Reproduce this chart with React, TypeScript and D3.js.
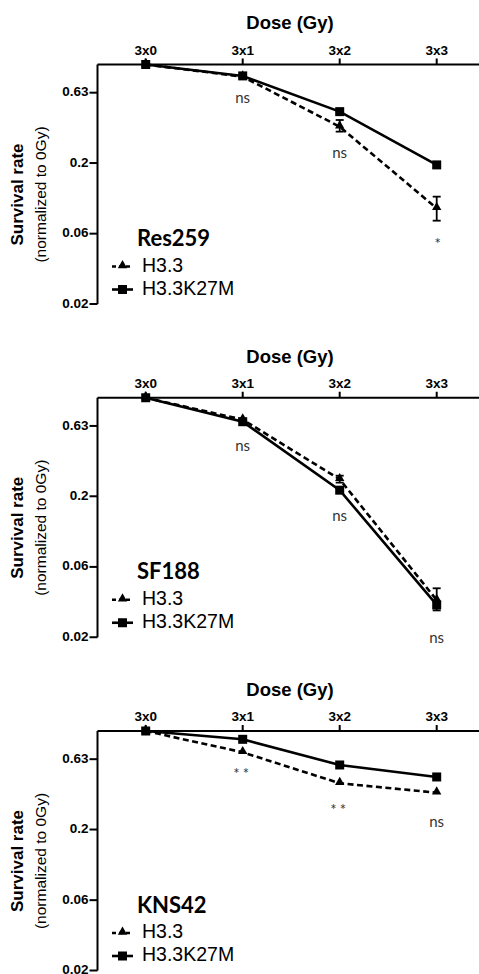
import * as d3 from "d3";

// x categories and y ticks (log axis, half-decade ticks)
const doses = ["3x0", "3x1", "3x2", "3x3"];
const yTickValues = [0.631, 0.2, 0.0631, 0.02];
const yTickLabels = ["0.63", "0.2", "0.06", "0.02"];
const seriesNames = ["H3.3", "H3.3K27M"];

// Res259
const res259H33 = [1, 0.82, 0.362, 0.0955];
const res259K27M = [1, 0.83, 0.463, 0.194];
const res259H33Err: ([number, number] | null)[] = [null, null, [0.334, 0.404], [0.078, 0.1155]];
const res259Sig = ["", "ns", "ns", "*"];
const res259SigAt = [0, 0.567, 0.232, 0.0525];

// SF188
const sf188H33 = [1, 0.7, 0.264, 0.0367];
const sf188K27M = [1, 0.676, 0.221, 0.0339];
const sf188H33Err: ([number, number] | null)[] = [null, null, [0.25, 0.28], [0.031, 0.0445]];
const sf188Sig = ["", "ns", "ns", "ns"];
const sf188SigAt = [0, 0.445, 0.141, 0.0194];

// KNS42
const kns42H33 = [1, 0.706, 0.426, 0.365];
const kns42K27M = [1, 0.873, 0.574, 0.472];
const kns42H33Err: ([number, number] | null)[] = [null, null, null, null];
const kns42Sig = ["", "**", "**", "ns"];
const kns42SigAt = [0, 0.488, 0.272, 0.221];

const W = 479;
const H = 974;
const panelH = 333.25;
const margin = { top: 64.5, left: 97.5 };
const plotH = 239.5;

const arial = "'Liberation Sans', Arial, sans-serif";
const calibri = "Lato, 'Open Sans', sans-serif";

interface PanelProps {
  name: string;
  h33: number[];
  k27m: number[];
  h33Err: ([number, number] | null)[];
  sig: string[];
  sigAt: number[];
  offset: number;
}

function Panel({ name, h33, k27m, h33Err, sig, sigAt, offset }: PanelProps) {
  const x = d3.scalePoint<string>().domain(doses).range([145.7 - margin.left, 436.7 - margin.left]);
  const y = d3.scaleLog().domain([0.02, 1]).range([plotH, 0]);

  const line = d3
    .line<number>()
    .x((_, i) => x(doses[i]) as number)
    .y((d) => y(d));

  const tri = d3.symbol().type(d3.symbolTriangle).size(38)() as string;
  const sq = 9;

  return (
    <g transform={`translate(${margin.left}, ${offset + margin.top})`}>
      {/* top axis */}
      <line x1={0} x2={W - margin.left} y1={0} y2={0} stroke="#000" strokeWidth={2} />
      {doses.map((d) => (
        <g key={d} transform={`translate(${x(d)}, 0)`}>
          <line y1={0} y2={-6} stroke="#000" strokeWidth={2} />
          <text y={-10} textAnchor="middle" fontFamily={arial} fontWeight="bold" fontSize={13.5}>
            {d}
          </text>
        </g>
      ))}
      <text
        x={290 - margin.left}
        y={-40}
        textAnchor="middle"
        dominantBaseline="middle"
        fontFamily={arial}
        fontWeight="bold"
        fontSize={18.5}
      >
        Dose (Gy)
      </text>

      {/* left axis */}
      <line x1={0} x2={0} y1={0} y2={plotH} stroke="#000" strokeWidth={2} />
      {yTickValues.map((v, i) => (
        <g key={v} transform={`translate(0, ${y(v)})`}>
          <line x1={-8} x2={0} stroke="#000" strokeWidth={2} />
          <text
            x={-9}
            textAnchor="end"
            dominantBaseline="middle"
            fontFamily={arial}
            fontWeight="bold"
            fontSize={13.5}
          >
            {yTickLabels[i]}
          </text>
        </g>
      ))}
      <text
        transform={`translate(${19 - margin.left}, 130) rotate(-90)`}
        textAnchor="middle"
        dominantBaseline="middle"
        fontFamily={arial}
        fontWeight="bold"
        fontSize={17}
      >
        Survival rate
      </text>
      <text
        transform={`translate(${42 - margin.left}, 130) rotate(-90)`}
        textAnchor="middle"
        dominantBaseline="middle"
        fontFamily={arial}
        fontSize={15.5}
      >
        (normalized to 0Gy)
      </text>

      {/* series lines */}
      <path d={line(h33) as string} fill="none" stroke="#000" strokeWidth={2.6} strokeDasharray="6,3.5" />
      <path d={line(k27m) as string} fill="none" stroke="#000" strokeWidth={2.6} />

      {/* error bars */}
      {h33Err.map((e, i) =>
        e ? (
          <g key={i} stroke="#000" strokeWidth={1.8}>
            <line x1={x(doses[i])} x2={x(doses[i])} y1={y(e[0])} y2={y(e[1])} />
            <line x1={(x(doses[i]) as number) - 4} x2={(x(doses[i]) as number) + 4} y1={y(e[0])} y2={y(e[0])} />
            <line x1={(x(doses[i]) as number) - 4} x2={(x(doses[i]) as number) + 4} y1={y(e[1])} y2={y(e[1])} />
          </g>
        ) : null
      )}

      {/* markers */}
      {h33.map((v, i) => (
        <path key={`t${i}`} d={tri} transform={`translate(${x(doses[i])}, ${y(v) - 1})`} fill="#000" />
      ))}
      {k27m.map((v, i) => (
        <rect key={`s${i}`} x={(x(doses[i]) as number) - sq / 2} y={y(v) - sq / 2} width={sq} height={sq} fill="#000" />
      ))}

      {/* significance */}
      {sig.map((s, i) =>
        s ? (
          <text
            key={`g${i}`}
            x={(x(doses[i]) as number) + (s === "*" ? 1 : 0)}
            y={y(sigAt[i])}
            textAnchor="middle"
            dominantBaseline="middle"
            fontFamily={calibri}
            fontSize={s === "ns" ? 15 : 15}
            letterSpacing={s === "**" ? 3 : 0}
            fill="#333"
          >
            {s}
          </text>
        ) : null
      )}

      {/* legend */}
      <text x={137 - margin.left} y={176} dominantBaseline="middle" fontFamily={calibri} fontWeight="bold" fontSize={22}>
        {name}
      </text>
      <g transform={`translate(0, 202)`}>
        <line x1={112 - margin.left} x2={133 - margin.left} stroke="#000" strokeWidth={2.6} strokeDasharray="4,3" />
        <path d={tri} transform={`translate(${122.5 - margin.left}, -1)`} fill="#000" />
        <text x={142 - margin.left} dominantBaseline="middle" fontFamily={arial} fontSize={19.5}>
          {seriesNames[0]}
        </text>
      </g>
      <g transform={`translate(0, 225)`}>
        <line x1={112 - margin.left} x2={133 - margin.left} stroke="#000" strokeWidth={2.6} />
        <rect x={122.5 - margin.left - sq / 2} y={-sq / 2} width={sq} height={sq} fill="#000" />
        <text x={142 - margin.left} dominantBaseline="middle" fontFamily={arial} fontSize={19.5}>
          {seriesNames[1]}
        </text>
      </g>
    </g>
  );
}

export default function App() {
  return (
    <svg
      width={W}
      height={H}
      viewBox={`0 0 ${W} ${H}`}
      style={{ position: "absolute", left: 0, top: 0, background: "#fff" }}
    >
      <rect width={W} height={H} fill="#fff" />
      <Panel name="Res259" h33={res259H33} k27m={res259K27M} h33Err={res259H33Err} sig={res259Sig} sigAt={res259SigAt} offset={0} />
      <Panel name="SF188" h33={sf188H33} k27m={sf188K27M} h33Err={sf188H33Err} sig={sf188Sig} sigAt={sf188SigAt} offset={panelH} />
      <Panel name="KNS42" h33={kns42H33} k27m={kns42K27M} h33Err={kns42H33Err} sig={kns42Sig} sigAt={kns42SigAt} offset={panelH * 2} />
    </svg>
  );
}
